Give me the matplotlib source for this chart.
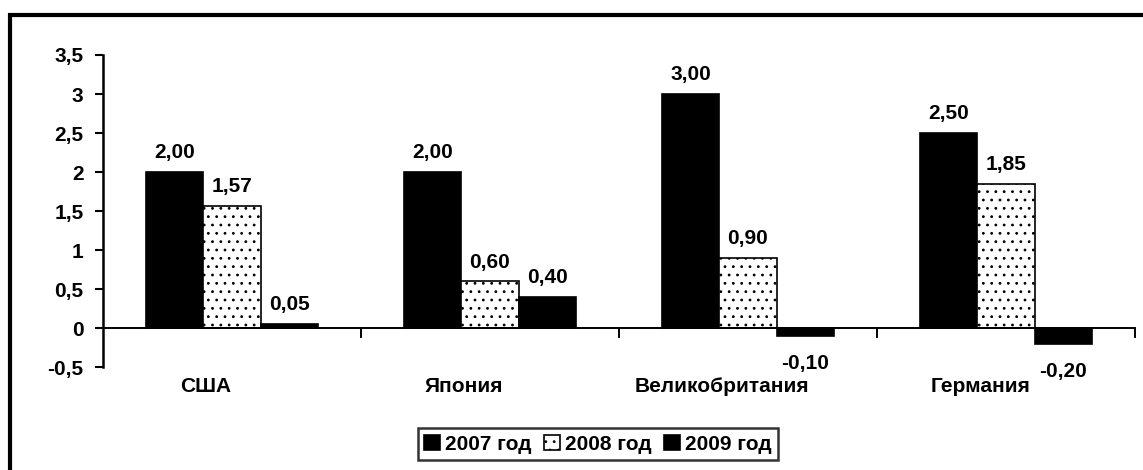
import matplotlib.pyplot as plt
from matplotlib.patches import Rectangle
import numpy as np

countries = ["США", "Япония", "Великобритания", "Германия"]
years = ["2007 год", "2008 год", "2009 год"]
v2007 = [2.00, 2.00, 3.00, 2.50]
v2008 = [1.57, 0.60, 0.90, 1.85]
v2009 = [0.05, 0.40, -0.10, -0.20]

plt.rcParams['font.family'] = ['Liberation Sans', 'DejaVu Sans']
plt.rcParams['font.size'] = 15
plt.rcParams['font.weight'] = 'bold'
plt.rcParams['hatch.linewidth'] = 0.8

fig = plt.figure(figsize=(11.43, 4.70), dpi=100)
ax = fig.add_axes([0.090, 0.219, 0.903, 0.664])

# frame around the whole chart
fig.patches.append(Rectangle((10 / 1143, -0.1), 1.2, 1 - 15 / 470 + 0.1,
                             transform=fig.transFigure, fill=False,
                             edgecolor='black', linewidth=3))

x = np.arange(len(countries))
w = 1 / 4.5
series = [v2007, v2008, v2009]
styles = [dict(color='black'),
          dict(facecolor='white', hatch='..'),
          dict(color='black')]

for i, (vals, st) in enumerate(zip(series, styles)):
    bars = ax.bar(x + (i - 1) * w, vals, w, edgecolor='black', linewidth=1.2,
                  label=years[i], **st)
    for b, v in zip(bars, vals):
        txt = f"{v:.2f}".replace('.', ',')
        if v >= 0:
            ax.annotate(txt, (b.get_x() + b.get_width() / 2, v),
                        xytext=(0, 7), textcoords='offset points',
                        ha='center', va='bottom')
        else:
            ax.annotate(txt, (b.get_x() + b.get_width() / 2, v),
                        xytext=(0, -13), textcoords='offset points',
                        ha='center', va='top')

ax.set_xlim(-0.5, len(countries) - 0.5)
ax.set_ylim(-0.5, 3.5)
ticks = np.arange(-0.5, 3.51, 0.5)
ax.set_yticks(ticks)
ax.set_yticklabels([f"{t:g}".replace('.', ',') for t in ticks])
ax.tick_params(axis='y', direction='out', length=6, width=1.5, pad=8)

ax.spines['top'].set_visible(False)
ax.spines['right'].set_visible(False)
ax.spines['left'].set_linewidth(1.8)
ax.spines['bottom'].set_position(('data', 0))
ax.spines['bottom'].set_linewidth(1.4)

ax.set_xticks(list(x[1:] - 0.5) + [len(countries) - 0.5])
ax.set_xticklabels([])
ax.tick_params(axis='x', which='major', direction='out', length=7, width=1.4)
ax.set_xticks(x - 0.1, minor=True)
ax.set_xticklabels(countries, minor=True)
ax.tick_params(axis='x', which='minor', length=0, pad=35)

ax.legend(loc='center', bbox_to_anchor=(0.523, 0.055),
          bbox_transform=fig.transFigure, ncol=3, frameon=True,
          fancybox=False, edgecolor='black', handlelength=0.75,
          handleheight=0.75, handletextpad=0.25, columnspacing=0.6,
          borderpad=0.3, fontsize=15)
ax.get_legend().get_frame().set_linewidth(1.8)

fig.savefig("out.png", dpi=100)
